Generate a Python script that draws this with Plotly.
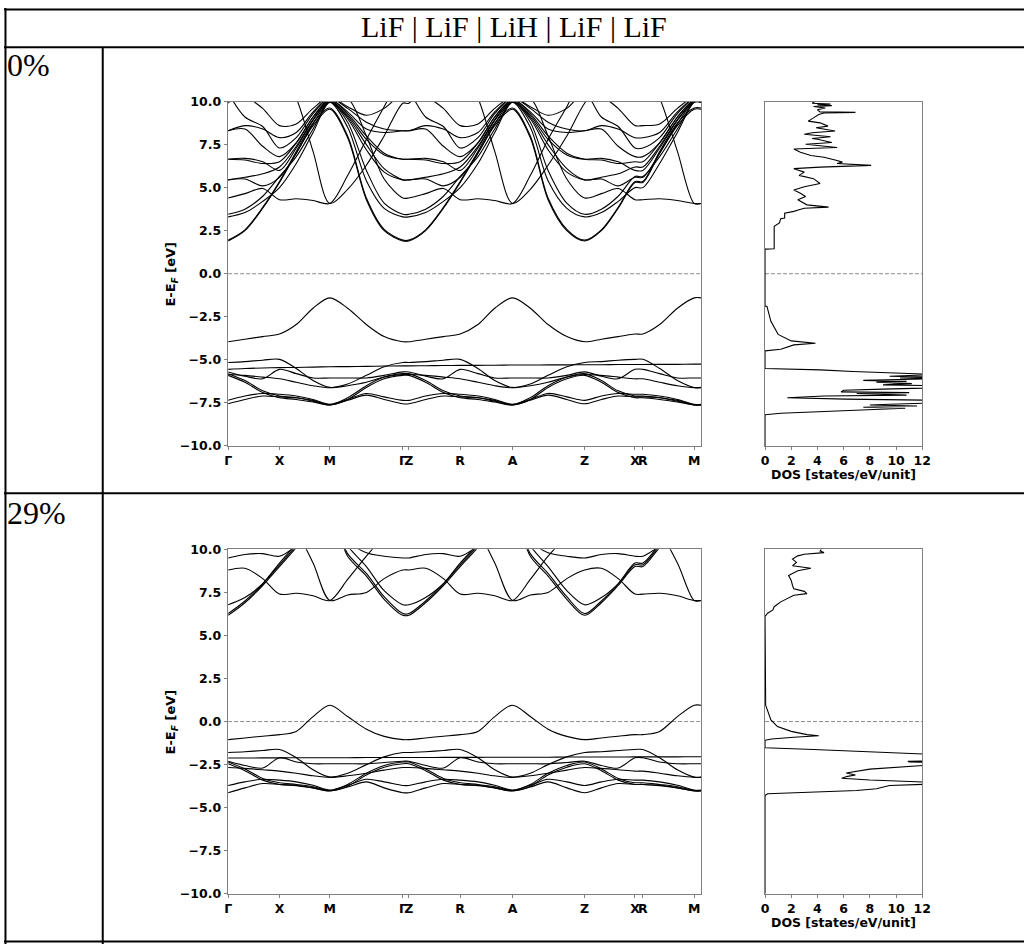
import plotly.graph_objects as go

W, H = 1033, 951

# ---------------- k-path ----------------
K = [0, 17, 35, 52, 69, 86, 103, 121, 140, 158, 177,
     183, 200, 218, 235, 253, 270, 288, 306, 324, 343, 361,
     378, 395, 412, 420, 437, 455, 472, 479]
TICK_POS = [0, 52, 103, 177, 183, 235, 288, 361, 412, 420, 472]
TICK_LAB = ["Γ", "X", "M", "Γ", "Z", "R", "A", "Z", "X", "R", "M"]

# ---------------- bands, 0 % ----------------
BANDS_0 = [
    # valence
    [-3.95,-3.80,-3.65,-3.50,-2.95,-2.00,-1.40,-2.00,-2.95,-3.65,-3.95,
     -3.95,-3.80,-3.65,-3.50,-2.95,-2.00,-1.40,-2.00,-2.95,-3.65,-3.95,
     -3.80,-3.65,-3.50,-3.50,-2.95,-2.00,-1.40,-1.40],
    [-5.15,-5.10,-5.02,-4.97,-5.50,-6.20,-6.60,-6.40,-5.90,-5.40,-5.15,
     -5.15,-5.10,-5.02,-4.97,-5.50,-6.20,-6.60,-6.40,-5.90,-5.40,-5.15,
     -5.10,-5.02,-4.97,-4.97,-5.50,-6.20,-6.60,-6.60],
    [-5.55,-5.50,-5.47,-5.45,-5.44,-5.42,-5.40,-5.39,-5.38,-5.36,-5.35,
     -5.35,-5.34,-5.33,-5.32,-5.32,-5.31,-5.30,-5.30,-5.29,-5.29,-5.28,
     -5.28,-5.27,-5.27,-5.27,-5.26,-5.26,-5.25,-5.25],
    [-5.70,-5.95,-6.10,-5.55,-5.80,-6.05,-6.05,-6.05,-6.05,-5.90,-5.70,
     -5.70,-5.95,-6.10,-5.55,-5.80,-6.05,-6.05,-6.05,-6.05,-5.90,-5.70,
     -5.95,-6.10,-5.55,-5.55,-5.80,-6.05,-6.05,-6.05],
    [-5.80,-6.20,-6.80,-7.10,-7.20,-7.35,-7.60,-7.20,-6.50,-6.00,-5.80,
     -5.80,-6.20,-6.80,-7.10,-7.20,-7.35,-7.60,-7.20,-6.50,-6.00,-5.80,
     -6.20,-6.80,-7.10,-7.10,-7.20,-7.35,-7.60,-7.60],
    [-5.90,-6.30,-6.90,-7.20,-7.30,-7.45,-7.62,-7.30,-6.60,-6.10,-5.90,
     -5.90,-6.30,-6.90,-7.20,-7.30,-7.45,-7.62,-7.30,-6.60,-6.10,-5.90,
     -6.30,-6.90,-7.20,-7.20,-7.30,-7.45,-7.62,-7.62],
    [-7.35,-7.10,-6.95,-7.00,-7.10,-7.30,-7.58,-7.30,-6.95,-7.15,-7.35,
     -7.35,-7.10,-6.95,-7.00,-7.10,-7.30,-7.58,-7.30,-6.95,-7.15,-7.35,
     -7.10,-6.95,-7.00,-7.00,-7.10,-7.30,-7.58,-7.58],
    [-7.55,-7.30,-7.10,-7.15,-7.20,-7.40,-7.62,-7.35,-7.05,-7.30,-7.55,
     -7.55,-7.30,-7.10,-7.15,-7.20,-7.40,-7.62,-7.35,-7.05,-7.30,-7.55,
     -7.30,-7.10,-7.15,-7.15,-7.20,-7.40,-7.62,-7.62],
    [-5.85,-5.90,-6.00,-6.10,-6.30,-6.50,-6.62,-6.50,-6.30,-6.00,-5.85,
     -5.85,-5.90,-6.00,-6.10,-6.30,-6.50,-6.62,-6.50,-6.30,-6.00,-5.85,
     -5.90,-6.00,-6.10,-6.10,-6.30,-6.50,-6.62,-6.62],
    # conduction
    [1.90,2.50,3.80,5.30,7.00,8.60,9.55,7.90,4.30,2.50,1.90,
     1.90,2.50,3.80,5.30,7.00,8.60,9.55,7.90,4.30,2.50,1.90,
     2.50,3.80,5.30,5.30,7.00,8.60,9.55,9.55],
    [1.95,2.55,3.85,5.35,7.10,8.75,9.62,8.00,4.40,2.58,1.95,
     1.95,2.55,3.85,5.35,7.10,8.75,9.62,8.00,4.40,2.58,1.95,
     2.55,3.85,5.35,5.35,7.10,8.75,9.62,9.62],
    [3.30,3.55,4.20,5.00,6.40,8.20,9.95,8.50,5.40,3.80,3.30,
     3.30,3.55,4.20,5.00,6.40,8.20,9.95,8.50,5.40,3.80,3.30,
     3.55,4.20,5.00,5.00,6.40,8.20,9.95,9.95],
    [3.45,3.75,4.50,5.65,6.80,8.40,9.97,8.80,6.00,4.10,3.45,
     3.45,3.75,4.50,5.65,6.80,8.40,9.97,8.80,6.00,4.10,3.45,
     3.75,4.50,5.65,5.65,6.80,8.40,9.97,9.97],
    [4.40,4.65,4.95,4.30,4.35,4.25,4.08,5.70,7.80,9.70,11.5,
     11.5,10.4,9.60,8.60,8.70,9.60,10.3,10.2,8.00,5.50,4.40,
     4.65,4.95,4.30,4.30,4.35,4.25,4.08,4.08],
    [11.5,10.4,9.60,8.60,8.70,9.60,10.3,10.2,8.00,5.50,4.40,
     4.40,4.65,4.95,4.30,4.35,4.25,4.08,5.70,7.80,9.70,11.5,
     10.4,9.60,8.60,8.60,8.70,9.60,10.3,10.3],
    [9.90,11.0,12.0,12.0,10.2,7.10,4.08,4.90,6.30,8.00,9.90,
     9.90,11.0,12.0,12.0,10.2,7.10,4.08,4.90,6.30,8.00,9.90,
     11.0,12.0,12.0,12.0,10.2,7.10,4.08,4.08],
    [5.45,5.50,5.10,5.60,7.00,8.70,9.98,9.00,7.20,5.90,5.45,
     5.45,5.50,5.10,5.60,7.00,8.70,9.98,9.00,7.20,5.90,5.45,
     5.50,5.10,5.60,5.60,7.00,8.70,9.98,9.98],
    [6.65,6.70,6.50,6.00,7.30,8.90,10.0,9.20,7.80,6.90,6.65,
     6.65,6.70,6.50,6.00,7.30,8.90,10.0,9.20,7.80,6.90,6.65,
     6.70,6.50,6.00,6.00,7.30,8.90,10.0,10.0],
    [8.30,8.40,7.40,6.80,7.60,9.10,10.1,9.40,8.40,8.20,8.30,
     8.30,8.40,7.40,6.80,7.60,9.10,10.1,9.40,8.40,8.20,8.30,
     8.40,7.40,6.80,6.80,7.60,9.10,10.1,10.1],
    [10.5,9.10,8.55,7.30,7.90,9.30,10.2,9.70,9.20,9.60,10.5,
     10.5,9.10,8.55,7.30,7.90,9.30,10.2,9.70,9.20,9.60,10.5,
     9.10,8.55,7.30,7.30,7.90,9.30,10.2,10.2],
    [5.45,5.60,5.80,6.20,7.40,8.95,10.05,9.10,7.50,6.10,5.45,
     5.45,5.60,5.80,6.20,7.40,8.95,10.05,9.10,7.50,6.10,5.45,
     5.60,5.80,6.20,6.20,7.40,8.95,10.05,10.05],
    [6.65,6.60,6.40,6.50,7.60,9.10,10.1,9.30,8.00,7.00,6.65,
     6.65,6.60,6.40,6.50,7.60,9.10,10.1,9.30,8.00,7.00,6.65,
     6.60,6.40,6.50,6.50,7.60,9.10,10.1,10.1],
    [8.30,8.60,8.40,7.90,8.20,9.40,10.2,9.60,8.80,8.40,8.30,
     8.30,8.60,8.40,7.90,8.20,9.40,10.2,9.60,8.80,8.40,8.30,
     8.60,8.40,7.90,7.90,8.20,9.40,10.2,10.2],
]

# ---------------- bands, 29 % ----------------
BANDS_29 = [
    [-1.05,-0.95,-0.85,-0.76,-0.57,0.29,0.95,0.29,-0.44,-0.86,-1.05,
     -1.05,-0.95,-0.85,-0.76,-0.57,0.29,0.95,0.29,-0.44,-0.86,-1.05,
     -0.95,-0.85,-0.76,-0.76,-0.57,0.29,0.95,0.95],
    [-1.80,-1.75,-1.68,-1.62,-2.10,-2.80,-3.22,-3.00,-2.50,-2.05,-1.80,
     -1.80,-1.75,-1.68,-1.62,-2.10,-2.80,-3.22,-3.00,-2.50,-2.05,-1.80,
     -1.75,-1.68,-1.62,-1.62,-2.10,-2.80,-3.22,-3.22],
    [-2.12,-2.12,-2.11,-2.11,-2.10,-2.10,-2.10,-2.10,-2.09,-2.09,-2.09,
     -2.09,-2.09,-2.08,-2.08,-2.08,-2.07,-2.07,-2.07,-2.07,-2.06,-2.06,
     -2.06,-2.06,-2.05,-2.05,-2.05,-2.05,-2.04,-2.04],
    [-2.30,-2.55,-2.70,-2.10,-2.35,-2.45,-2.45,-2.45,-2.45,-2.38,-2.30,
     -2.30,-2.55,-2.70,-2.10,-2.35,-2.45,-2.45,-2.45,-2.45,-2.38,-2.30,
     -2.55,-2.70,-2.10,-2.10,-2.35,-2.45,-2.45,-2.45],
    [-2.35,-2.75,-3.30,-3.55,-3.65,-3.78,-4.00,-3.65,-3.00,-2.55,-2.35,
     -2.35,-2.75,-3.30,-3.55,-3.65,-3.78,-4.00,-3.65,-3.00,-2.55,-2.35,
     -2.75,-3.30,-3.55,-3.55,-3.65,-3.78,-4.00,-4.00],
    [-2.45,-2.85,-3.40,-3.65,-3.72,-3.85,-4.02,-3.75,-3.10,-2.65,-2.45,
     -2.45,-2.85,-3.40,-3.65,-3.72,-3.85,-4.02,-3.75,-3.10,-2.65,-2.45,
     -2.85,-3.40,-3.65,-3.65,-3.72,-3.85,-4.02,-4.02],
    [-3.71,-3.50,-3.35,-3.40,-3.50,-3.70,-3.98,-3.70,-3.35,-3.50,-3.71,
     -3.71,-3.50,-3.35,-3.40,-3.50,-3.70,-3.98,-3.70,-3.35,-3.50,-3.71,
     -3.50,-3.35,-3.40,-3.40,-3.50,-3.70,-3.98,-3.98],
    [-4.13,-3.85,-3.60,-3.65,-3.70,-3.85,-4.03,-3.80,-3.50,-3.85,-4.13,
     -4.13,-3.85,-3.60,-3.65,-3.70,-3.85,-4.03,-3.80,-3.50,-3.85,-4.13,
     -3.85,-3.60,-3.65,-3.65,-3.70,-3.85,-4.03,-4.03],
    [-2.67,-2.72,-2.80,-2.88,-3.00,-3.15,-3.24,-3.15,-3.00,-2.82,-2.67,
     -2.67,-2.72,-2.80,-2.88,-3.00,-3.15,-3.24,-3.15,-3.00,-2.82,-2.67,
     -2.72,-2.80,-2.88,-2.88,-3.00,-3.15,-3.24,-3.24],
    # conduction
    [6.17,6.90,7.90,9.00,10.1,11.2,12.0,9.60,8.45,7.10,6.17,
     6.17,6.90,7.90,9.00,10.1,11.2,12.0,9.60,8.45,7.10,6.17,
     6.90,7.90,9.00,9.00,10.1,11.2,12.0,12.0],
    [6.27,7.00,8.00,9.20,10.3,11.4,12.0,9.75,8.60,7.25,6.27,
     6.27,7.00,8.00,9.20,10.3,11.4,12.0,9.75,8.60,7.25,6.27,
     7.00,8.00,9.20,9.20,10.3,11.4,12.0,12.0],
    [6.78,7.20,8.00,9.10,10.2,11.3,12.0,10.2,9.00,7.60,6.78,
     6.78,7.20,8.00,9.10,10.2,11.3,12.0,10.2,9.00,7.60,6.78,
     7.20,8.00,9.10,9.10,10.2,11.3,12.0,12.0],
    [8.80,8.90,8.30,7.40,7.45,7.30,7.03,8.25,9.60,10.8,12.0,
     12.0,12.0,12.0,11.8,11.0,9.20,7.03,7.35,7.50,8.30,8.80,
     8.90,8.30,7.40,7.40,7.45,7.30,7.03,7.03],
    [12.0,12.0,12.0,11.8,11.0,9.20,7.03,7.35,7.50,8.30,8.80,
     8.80,8.90,8.30,7.40,7.45,7.30,7.03,8.25,9.60,10.8,12.0,
     12.0,12.0,11.8,11.8,11.0,9.20,7.03,7.03],
    [9.50,9.70,9.75,9.60,10.2,11.0,12.0,10.5,9.80,9.60,9.50,
     9.50,9.70,9.75,9.60,10.2,11.0,12.0,10.5,9.80,9.60,9.50,
     9.70,9.75,9.60,9.60,10.2,11.0,12.0,12.0],
]

# ---------------- DOS ----------------
DOS0_E = [10.0, 9.90, 9.85, 9.81, 9.76, 9.71, 9.62, 9.52, 9.40, 9.37, 9.33, 9.24, 9.05,
          8.86, 8.76, 8.57, 8.48, 8.29, 8.19, 8.10, 7.95, 7.85, 7.81, 7.62, 7.52, 7.33,
          7.24, 7.05, 6.86, 6.76, 6.57, 6.48, 6.40, 6.29, 6.19, 6.10, 5.90, 5.71, 5.52,
          5.24, 5.05, 4.86, 4.67, 4.48, 4.29, 4.00, 3.87, 3.80, 3.71, 3.62, 3.52, 3.24,
          3.20, 2.95, 2.76, 1.62, 1.45, 1.43, -1.88, -1.90, -2.76, -3.52, -3.90, -4.04,
          -4.13, -4.38, -4.48, -5.50, -5.58, -5.68, -5.77, -5.80, -5.85, -5.95, -6.00,
          -6.05, -6.10, -6.19, -6.25, -6.29, -6.38, -6.45, -6.50, -6.57, -6.62, -6.70,
          -6.76, -6.86, -6.90, -6.95, -7.05, -7.10, -7.20, -7.28, -7.35, -7.43, -7.50,
          -7.58, -7.62, -7.68, -7.75, -7.81, -7.90, -8.00, -8.10, -8.19, -10.0]
DOS0_V = [3.8, 3.6, 5.0, 4.0, 5.1, 3.7, 4.6, 4.0, 4.2, 6.9, 4.5, 4.1, 3.7,
          3.3, 4.2, 4.8, 3.9, 5.35, 3.6, 3.0, 5.0, 3.6, 4.0, 5.1, 3.1, 5.5,
          2.2, 2.7, 3.5, 4.5, 5.5, 5.9, 5.5, 8.1, 4.2, 2.2, 3.0, 2.6, 3.7,
          4.2, 3.0, 2.2, 2.7, 3.1, 2.5, 3.2, 4.85, 3.0, 2.6, 2.2, 1.5, 1.5,
          1.2, 1.1, 0.7, 0.7, 0.7, 0.0, 0.0, 0.15, 0.45, 1.0, 2.0, 3.85,
          2.2, 1.2, 0.0, 0.0, 4.2, 6.7, 9.75, 11.0, 13.0, 9.5, 13.0,
          10.3, 12.5, 7.5, 10.8, 8.5, 11.2, 9.0, 13.0, 12.0, 13.0, 9.0,
          6.0, 5.8, 11.0, 7.0, 10.8, 4.5, 1.7, 6.2, 13.0, 12.5, 13.0,
          9.5, 8.0, 11.6, 7.5, 10.7, 7.7, 4.0, 1.2, 0.0, 0.0]

DOS29_E = [10.0, 9.90, 9.81, 9.71, 9.62, 9.43, 9.24, 9.05, 8.90, 8.76, 8.48, 8.19, 7.90,
           7.71, 7.56, 7.43, 7.33, 7.14, 6.95, 6.67, 6.48, 6.29, 6.10, 0.95, 0.67,
           0.10, -0.29, -0.57, -0.76, -0.82, -0.91, -1.01, -1.09, -1.52, -1.62, -1.77,
           -1.90, -2.29, -2.31, -2.35, -2.38, -2.53, -2.76, -2.99, -3.10, -3.18, -3.29,
           -3.39, -3.52, -3.62, -3.71, -3.90, -4.00, -4.10, -4.19, -4.29, -10.0]
DOS29_V = [4.3, 4.2, 4.5, 3.0, 2.5, 2.1, 2.4, 2.1, 3.5, 2.5, 1.8, 2.0, 2.1,
           2.2, 3.0, 3.2, 2.2, 1.7, 1.2, 0.7, 0.6, 0.2, 0.0, 0.05, 0.2,
           0.45, 0.95, 2.0, 3.2, 4.1, 2.2, 0.5, 0.0, 0.0, 3.7, 8.7,
           12.5, 13.0, 10.9, 11.0, 13.0, 12.5, 8.0, 6.2, 6.9, 6.3, 5.85,
           8.0, 12.5, 13.0, 9.5, 8.5, 7.0, 2.5, 0.2, 0.0, 0.0]

Y_TICKS = [-10, -7.5, -5, -2.5, 0, 2.5, 5, 7.5, 10]
Y_TICKTEXT = ["\u221210.0", "\u22127.5", "\u22125.0", "\u22122.5", "0.0", "2.5", "5.0", "7.5", "10.0"]
DOS_TICKS = [0, 2, 4, 6, 8, 10, 12]

ROW_LABELS = ["0%", "29%"]
HEADER = "LiF | LiF | LiH | LiF | LiF"

# ---------------- geometry (pixels) ----------------
BAND_X = (227, 706)
DOS_X = (770.7, 930)
PANEL_Y = [(95, 445), (550, 900)]

def px_x(p):
    return p / W

def px_y(p):
    return 1 - p / H

fig = go.Figure()

AXFONT = dict(family="DejaVu Sans", size=12.5, color="black", weight="bold")
FRAME = "#7f7f7f"

for i, (bands, dE, dV) in enumerate([(BANDS_0, DOS0_E, DOS0_V), (BANDS_29, DOS29_E, DOS29_V)]):
    bx = "x" if i == 0 else "x3"
    by = "y" if i == 0 else "y3"
    dx = "x2" if i == 0 else "x4"
    dy = "y2" if i == 0 else "y4"
    # zero lines
    fig.add_trace(go.Scatter(x=[0, 479], y=[0, 0], mode="lines", xaxis=bx, yaxis=by,
                             line=dict(color="#8c8c8c", width=1, dash="4px,2px"), hoverinfo="skip"))
    fig.add_trace(go.Scatter(x=[0, 12], y=[0, 0], mode="lines", xaxis=dx, yaxis=dy,
                             line=dict(color="#8c8c8c", width=1, dash="4px,2px"), hoverinfo="skip"))
    for b in bands:
        fig.add_trace(go.Scatter(x=K, y=b, mode="lines", xaxis=bx, yaxis=by,
                                 line=dict(color="black", width=1.1, shape="spline", smoothing=0.9),
                                 hoverinfo="skip"))
    fig.add_trace(go.Scatter(x=dV, y=dE, mode="lines", xaxis=dx, yaxis=dy,
                             line=dict(color="black", width=1.1), hoverinfo="skip"))

    y0, y1 = PANEL_Y[i]
    ydom = [px_y(y1), px_y(y0)]
    suffix_b = "" if i == 0 else "3"
    suffix_d = "2" if i == 0 else "4"
    common = dict(showgrid=False, zeroline=False, showline=True, mirror=True,
                  linecolor=FRAME, linewidth=1, tickfont=AXFONT, ticks="outside",
                  ticklen=3.5, tickcolor=FRAME, tickwidth=1)
    fig.update_layout(**{
        "xaxis" + suffix_b: dict(domain=[px_x(BAND_X[0]), px_x(BAND_X[1])], range=[0, 479],
                                 tickmode="array", tickvals=TICK_POS, ticktext=TICK_LAB,
                                 tickangle=0, anchor=by, **common),
        "yaxis" + suffix_b: dict(domain=ydom, range=[-10, 10], tickmode="array",
                                 tickvals=Y_TICKS, ticktext=Y_TICKTEXT, anchor=bx, **common),
        "xaxis" + suffix_d: dict(domain=[px_x(DOS_X[0]), px_x(DOS_X[1])], range=[0, 12],
                                 tickmode="array", tickvals=DOS_TICKS, tickangle=0,
                                 ticktext=[str(t) for t in DOS_TICKS], anchor=dy, **common),
        "yaxis" + suffix_d: dict(domain=ydom, range=[-10, 10], anchor=dx,
                                 showgrid=False, zeroline=False, showline=True, mirror=True,
                                 linecolor=FRAME, linewidth=1, showticklabels=False, ticks=""),
    })
    # axis titles
    fig.add_annotation(x=px_x(170), y=px_y((y0 + y1) / 2), xref="paper", yref="paper",
                       text="<b>E-E<sub><i>F</i></sub> [eV]</b>", textangle=-90, showarrow=False,
                       font=dict(family="DejaVu Sans", size=13, color="black"),
                       xanchor="center", yanchor="middle")
    fig.add_annotation(x=px_x((DOS_X[0] + DOS_X[1]) / 2), y=px_y(y1 + 29), xref="paper", yref="paper",
                       text="<b>DOS [states/eV/unit]</b>", showarrow=False,
                       font=dict(family="DejaVu Sans", size=12.5, color="black"),
                       xanchor="center", yanchor="middle")

# ---------------- table ----------------
LW = 2
table_lines = [
    (0, 1.5, W, 1.5),        # top
    (0, 40, W, 40),          # header bottom
    (0, 493, W, 493),        # row separator
    (0, 948.5, W, 948.5),    # bottom
    (1.5, 0, 1.5, H),        # left
    (100, 40, 100, H),       # row label column
]
for (xa, ya, xb, yb) in table_lines:
    fig.add_shape(type="line", xref="paper", yref="paper",
                  x0=px_x(xa), y0=px_y(ya), x1=px_x(xb), y1=px_y(yb),
                  line=dict(color="black", width=LW))

fig.add_annotation(x=px_x(516), y=px_y(19), xref="paper", yref="paper", text=HEADER,
                   showarrow=False, font=dict(family="Liberation Serif", size=30, color="black"),
                   xanchor="center", yanchor="middle")
for lab, yc in zip(ROW_LABELS, [58, 513]):
    fig.add_annotation(x=px_x(1), y=px_y(yc), xref="paper", yref="paper", text=lab,
                       showarrow=False, font=dict(family="Liberation Serif", size=32, color="black"),
                       xanchor="left", yanchor="middle")

fig.update_layout(width=W, height=H, margin=dict(l=0, r=0, t=0, b=0),
                  paper_bgcolor="white", plot_bgcolor="white", showlegend=False)

fig.write_html("out.html")
